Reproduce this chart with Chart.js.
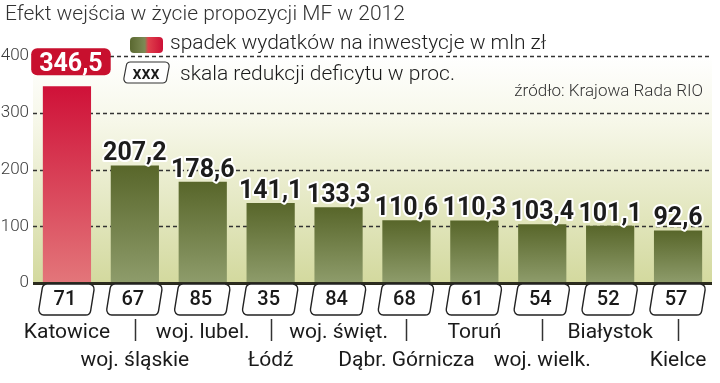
<!DOCTYPE html>
<html>
<head>
<meta charset="utf-8">
<script src="https://cdn.jsdelivr.net/npm/chart.js@4.4.0/dist/chart.umd.min.js"></script>
<style>
  html, body { margin: 0; padding: 0; background: #fff; }
  #wrap { width: 720px; height: 383px; }
</style>
</head>
<body>
<div id="wrap"><canvas id="chart"></canvas></div>
<script>
// data
const places = ['Katowice', 'woj. śląskie', 'woj. lubel.', 'Łódź', 'woj. święt.',
  'Dąbr. Górnicza', 'Toruń', 'woj. wielk.', 'Białystok', 'Kielce'];
const cuts = [346.5, 207.2, 178.6, 141.1, 133.3, 110.6, 110.3, 103.4, 101.1, 92.6];
const deficitCut = [71, 67, 85, 35, 84, 68, 61, 54, 52, 57];
const yTicks = [0, 100, 200, 300, 400];

const titleText = 'Efekt wejścia w życie propozycji MF w 2012';
const legendBars = 'spadek wydatków na inwestycje w mln zł';
const legendBoxes = 'skala redukcji deficytu w proc.';
const sourceText = 'źródło: Krajowa Rada RIO';

const fmt = v => v.toFixed(1).replace('.', ',');

//rounded box with slanted sides (top shifted right)
function slantBox(ctx, x0, y0, w, h, slant, r) {
    const p = [[x0 + slant, y0], [x0 + slant + w, y0], [x0 + w, y0 + h], [x0, y0 + h]];
    ctx.beginPath();
    ctx.moveTo((p[0][0] + p[1][0]) / 2, y0);
    for (let i = 1; i <= 4; i++) {
        const a = p[i % 4], b = p[(i + 1) % 4];
        ctx.arcTo(a[0], a[1], b[0], b[1], r);
    }
    ctx.closePath();
}

//bar fill: gradient per bar, dark top -> light bottom
function barFill(context) {
    const chart = context.chart;
    const area = chart.chartArea;
    if (!area) return '#6b7840';
    const top = chart.scales.y.getPixelForValue(cuts[context.dataIndex]);
    const g = chart.ctx.createLinearGradient(0, top, 0, area.bottom);
    if (context.dataIndex === 0) {
        g.addColorStop(0, '#cf1138');
        g.addColorStop(1, '#e3767a');
    } else {
        g.addColorStop(0, '#58662a');
        g.addColorStop(1, '#8e9c6b');
    }
    return g;
}

//background + dashed grid under the bars
const backdrop = {
    id: 'backdrop',
    beforeDraw(chart) {
        const { ctx, chartArea: a } = chart;
        ctx.save();
        ctx.fillStyle = '#fff';
        ctx.fillRect(0, 0, chart.width, chart.height);
        const g = ctx.createLinearGradient(0, a.top, 0, a.bottom);
        g.addColorStop(0, '#ffffff');
        g.addColorStop(0.3, '#f6f7e8');
        g.addColorStop(1, '#d3d99e');
        ctx.fillStyle = g;
        ctx.fillRect(a.left, a.top, a.right - a.left, a.bottom - a.top);
        ctx.restore();
    },
    beforeDatasetsDraw(chart) {
        const { ctx, chartArea: a, scales } = chart;
        ctx.save();
        ctx.strokeStyle = '#333';
        ctx.lineWidth = 1.4;
        ctx.setLineDash([4, 3]);
        yTicks.forEach(v => {
            if (v === 0) return;
            const y = Math.round(scales.y.getPixelForValue(v)) + 0.5;
            ctx.beginPath();
            ctx.moveTo(a.left, y);
            ctx.lineTo(a.right, y);
            ctx.stroke();
        });
        ctx.restore();
    }
};

//everything drawn on top: axis, boxes, labels, title, legend
const overlay = {
    id: 'overlay',
    afterDatasetsDraw(chart) {
        const { ctx, chartArea: a, scales } = chart;
        const xs = scales.x, ys = scales.y;
        ctx.save();

        //axis line
        ctx.fillStyle = '#2b2b1e';
        ctx.fillRect(a.left, a.bottom - 1, a.right - a.left, 3);

        //deficit boxes + category labels
        places.forEach((name, i) => {
            const cx = xs.getPixelForValue(i);
            slantBox(ctx, cx - 29, a.bottom + 1, 52, 31, 5, 5);
            ctx.fillStyle = '#fff';
            ctx.fill();
            ctx.strokeStyle = '#222';
            ctx.lineWidth = 1.4;
            ctx.stroke();

            ctx.fillStyle = '#1a1a1a';
            ctx.font = '500 20px Roboto';
            ctx.textAlign = 'center';
            ctx.textBaseline = 'middle';
            ctx.fillText(String(deficitCut[i]), cx - 2, a.bottom + 17);

            ctx.font = '21px Roboto';
            ctx.textBaseline = 'alphabetic';
            const second = i % 2 === 1;
            let lx = cx;
            const w = ctx.measureText(name).width;
            if (lx + w / 2 > chart.width - 2) lx = chart.width - 2 - w / 2;
            ctx.fillText(name, lx, second ? 366 : 338);
            if (second) {
                ctx.strokeStyle = '#333';
                ctx.lineWidth = 1.5;
                ctx.beginPath();
                ctx.moveTo(Math.round(cx) + 0.5, a.bottom + 36);
                ctx.lineTo(Math.round(cx) + 0.5, a.bottom + 58);
                ctx.stroke();
            }
        });

        //value labels
        ctx.font = 'bold 25px Roboto';
        ctx.textAlign = 'center';
        ctx.textBaseline = 'alphabetic';
        cuts.forEach((v, i) => {
            const cx = xs.getPixelForValue(i);
            const top = ys.getPixelForValue(v);
            const txt = fmt(v);
            if (i === 0) {
                const w = ctx.measureText(txt).width;
                const bx = cx + 4 - w / 2 - 8;
                ctx.fillStyle = '#c8102e';
                ctx.beginPath();
                ctx.roundRect(bx, top - 38, w + 16, 27, 6);
                ctx.fill();
                ctx.fillStyle = '#fff';
                ctx.fillText(txt, cx + 4, top - 15);
            } else {
                ctx.lineJoin = 'round';
                ctx.lineWidth = 4;
                ctx.strokeStyle = '#fff';
                ctx.strokeText(txt, cx, top - 5);
                ctx.fillStyle = '#1c1c1c';
                ctx.fillText(txt, cx, top - 5);
            }
        });

        //title
        ctx.textAlign = 'left';
        ctx.fillStyle = '#333';
        ctx.font = '300 21px Roboto';
        ctx.fillText(titleText, 5, 20);

        //legend: swatch
        const sg = ctx.createLinearGradient(130, 0, 163, 0);
        sg.addColorStop(0, '#5a6830');
        sg.addColorStop(0.45, '#7d8a55');
        sg.addColorStop(0.55, '#e0404c');
        sg.addColorStop(1, '#cc1036');
        ctx.fillStyle = sg;
        ctx.beginPath();
        ctx.roundRect(130, 37, 33, 16, 4);
        ctx.fill();
        ctx.fillStyle = '#222';
        ctx.font = '300 21px Roboto';
        ctx.fillText(legendBars, 170, 49);

        //legend: box
        slantBox(ctx, 123, 62, 43, 21, 4, 4);
        ctx.fillStyle = '#fff';
        ctx.fill();
        ctx.strokeStyle = '#333';
        ctx.lineWidth = 1.2;
        ctx.stroke();
        ctx.fillStyle = '#1a1a1a';
        ctx.font = '500 18px Roboto';
        ctx.textAlign = 'center';
        ctx.fillText('xxx', 146, 79);
        ctx.textAlign = 'left';
        ctx.font = '300 21px Roboto';
        ctx.fillText(legendBoxes, 180, 80);

        //source
        ctx.textAlign = 'right';
        ctx.font = '300 17px Roboto';
        ctx.fillStyle = '#333';
        ctx.fillText(sourceText, 703, 96);

        ctx.restore();
    }
};

const ctx = document.getElementById('chart').getContext('2d');

const myChart = new Chart(ctx, {
    type: 'bar',
    data: {
        labels: places,
        datasets: [{
            data: cuts,
            backgroundColor: barFill,
            borderWidth: 0,
            barPercentage: 0.71,
            categoryPercentage: 1
        }]
    },
    options: {
        responsive: true,
        maintainAspectRatio: false,
        animation: false,
        layout: {
            padding: { left: 0, right: 8, top: 56, bottom: 100 }
        },
        scales: {
            x: {
                display: false
            },
            y: {
                min: 0,
                max: 400,
                afterBuildTicks: scale => {
                    scale.ticks = yTicks.map(v => ({ value: v }));
                },
                afterFit: scale => {
                    scale.width = 33;
                },
                grid: { display: false, drawTicks: false },
                border: { display: false },
                ticks: {
                    padding: 4,
                    color: '#3a3a3a',
                    font: { family: 'Roboto', size: 17, weight: '300' }
                }
            }
        },
        plugins: {
            legend: { display: false },
            tooltip: { enabled: false }
        }
    },
    plugins: [backdrop, overlay]
});
</script>
</body>
</html>
